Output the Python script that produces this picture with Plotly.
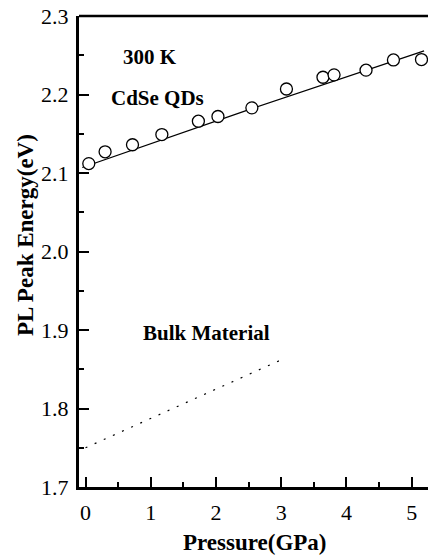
import plotly.graph_objects as go

# CdSe QDs measured PL peak energies
pressure = [0.05, 0.30, 0.72, 1.17, 1.73, 2.03, 2.55, 3.08, 3.64, 3.81, 4.30, 4.72, 5.15]
energy = [2.112, 2.127, 2.136, 2.149, 2.166, 2.172, 2.183, 2.207, 2.222, 2.225, 2.231, 2.244, 2.2445]

# fitted line through QD data
fit_p = [-0.05, 2.55, 5.19]
fit_e = [2.107, 2.182, 2.2555]

# bulk material reference
bulk_p = [0.0, 3.0]
bulk_e = [1.75, 1.862]

x_ticks = [0, 1, 2, 3, 4, 5]
y_ticks = [1.7, 1.8, 1.9, 2.0, 2.1, 2.2, 2.3]
y_tick_text = ["1.7", "1.8", "1.9", "2.0", "2.1", "2.2", "2.3"]

FONT = "Liberation Serif"

fig = go.Figure()
fig.add_trace(go.Scatter(x=fit_p, y=fit_e, mode="lines",
                         line=dict(color="black", width=1.3), showlegend=False))
fig.add_trace(go.Scatter(x=pressure, y=energy, mode="markers",
                         marker=dict(symbol="circle", size=12, color="white",
                                     line=dict(color="black", width=1.3)),
                         showlegend=False))
fig.add_trace(go.Scatter(x=bulk_p, y=bulk_e, mode="lines",
                         line=dict(color="black", width=1.2, dash="2px,8px"),
                         showlegend=False))

fig.update_layout(
    width=428, height=557,
    margin=dict(l=79, r=0, t=16, b=70),
    paper_bgcolor="white", plot_bgcolor="white",
    font=dict(family=FONT, color="black", size=22),
    xaxis=dict(range=[-0.1, 5.25], tickvals=x_ticks, ticks="inside", ticklen=10,
               tickwidth=2, tickcolor="black", showline=True, linewidth=3,
               linecolor="black", showgrid=False, zeroline=False,
               tickfont=dict(size=22, family=FONT), ticklabelstandoff=4,
               minor=dict(dtick=0.5, ticks="inside", ticklen=5, tickwidth=2,
                          tickcolor="black", showgrid=False)),
    yaxis=dict(range=[1.7, 2.3], tickvals=y_ticks, ticktext=y_tick_text,
               ticks="inside", ticklen=10, tickwidth=2, tickcolor="black",
               showline=True, linewidth=3, linecolor="black", showgrid=False,
               zeroline=False, tickfont=dict(size=22, family=FONT),
               ticklabelstandoff=3,
               minor=dict(dtick=0.05, ticks="inside", ticklen=5, tickwidth=2,
                          tickcolor="black", showgrid=False)),
    shapes=[dict(type="line", xref="paper", yref="paper", x0=0, x1=1, y0=1, y1=1,
                 line=dict(color="black", width=2.5))],
    annotations=[
        dict(text="<b>300 K</b>", x=150, y=57, showarrow=False,
             font=dict(size=21, family=FONT)),
        dict(text="<b>CdSe QDs</b>", x=157, y=98, showarrow=False,
             font=dict(size=21, family=FONT)),
        dict(text="<b>Bulk Material</b>", x=206, y=333, showarrow=False,
             font=dict(size=21, family=FONT)),
        dict(text="<b>Pressure(GPa)</b>", x=255, y=542, showarrow=False,
             font=dict(size=23, family=FONT)),
        dict(text="<b>PL Peak Energy(eV)</b>", x=25, y=235, textangle=-90,
             showarrow=False, font=dict(size=23, family=FONT)),
    ],
)

# convert annotation pixel positions to paper coordinates
L, T, W, H = 79, 16, 428 - 79, 557 - 16 - 70
anns = []
for a in fig.layout.annotations:
    a = a.to_plotly_json()
    px, py = a["x"], a["y"]
    a["xref"] = "paper"
    a["yref"] = "paper"
    a["x"] = (px - L) / W
    a["y"] = 1 - (py - T) / H
    a["xanchor"] = "center"
    a["yanchor"] = "middle"
    anns.append(a)
fig.layout.annotations = anns

fig.write_html("out.html")
